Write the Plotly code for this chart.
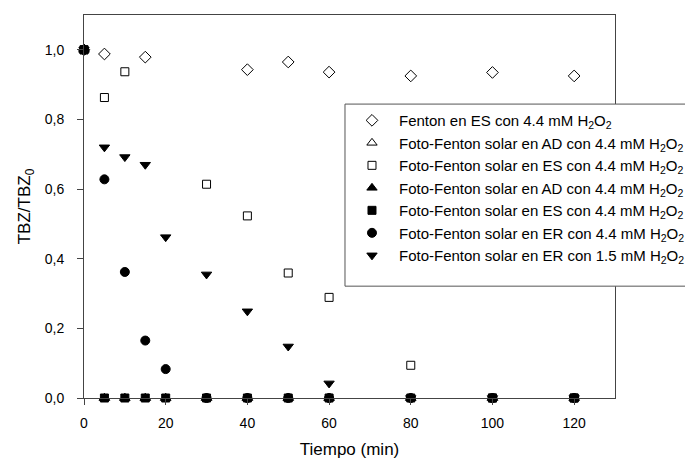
import plotly.graph_objects as go

# Tiempo de muestreo (min)
t_fenton = [0, 5, 15, 40, 50, 60, 80, 100, 120]
t_full = [0, 5, 10, 15, 20, 30, 40, 50, 60, 80, 100, 120]
t_es = [0, 5, 10, 30, 40, 50, 60, 80, 100, 120]

# TBZ/TBZ0 para cada ensayo
fenton_es = [1.0, 0.988, 0.979, 0.943, 0.965, 0.936, 0.925, 0.935, 0.925]
ff_ad_open = [1.0, 0, 0, 0, 0, 0, 0, 0, 0, 0, 0, 0]
ff_es_open = [1.0, 0.863, 0.937, 0.614, 0.523, 0.359, 0.289, 0.094, 0, 0]
ff_ad_fill = [1.0, 0, 0, 0, 0, 0, 0, 0, 0, 0, 0, 0]
ff_es_fill = [1.0, 0, 0, 0, 0, 0, 0, 0, 0, 0, 0, 0]
ff_er_44 = [1.0, 0.628, 0.362, 0.165, 0.083, 0, 0, 0, 0, 0, 0, 0]
ff_er_15 = [1.0, 0.720, 0.692, 0.670, 0.462, 0.355, 0.249, 0.148, 0.042, 0, 0, 0]

H2O2 = "H<sub>2</sub>O<sub>2</sub>"
series = [
    ("Fenton en ES con 4.4 mM " + H2O2, t_fenton, fenton_es, "diamond-open", 9),
    ("Foto-Fenton solar en AD con 4.4 mM " + H2O2, t_full, ff_ad_open, "triangle-up-open", 9),
    ("Foto-Fenton solar en ES con 4.4 mM " + H2O2, t_es, ff_es_open, "square-open", 8),
    ("Foto-Fenton solar en AD con 4.4 mM " + H2O2, t_full, ff_ad_fill, "triangle-up", 9),
    ("Foto-Fenton solar en ES con 4.4 mM " + H2O2, t_full, ff_es_fill, "square", 8),
    ("Foto-Fenton solar en ER con 4.4 mM " + H2O2, t_full, ff_er_44, "circle", 9),
    ("Foto-Fenton solar en ER con 1.5 mM " + H2O2, t_full, ff_er_15, "triangle-down", 9),
]

fig = go.Figure()
for i, (name, x, y, sym, size) in enumerate(series):
    fig.add_trace(go.Scatter(
        x=x, y=y, mode="markers", name=name, cliponaxis=False,
        legendgroup=f"g{i}",
        marker=dict(symbol=sym, size=size, color="black",
                    line=dict(color="black", width=1)),
    ))

axis_color = "#444444"

# Legend frame (runs off the right edge of the figure), opaque so it hides the plot border
legend_x0, legend_y_top, legend_y_bottom = 0.4915, 0.7674, 0.292
fig.add_shape(
    type="rect", xref="paper", yref="paper",
    x0=legend_x0, x1=1.3, y0=legend_y_bottom, y1=legend_y_top,
    line=dict(color="#555555", width=1), fillcolor="white", layer="above",
)

fig.update_layout(
    width=685, height=459,
    margin=dict(l=84, r=70, t=15, b=61, autoexpand=False),
    paper_bgcolor="white", plot_bgcolor="white",
    separators=",.",
    font=dict(family="Liberation Sans, Arial, sans-serif", size=14, color="black"),
    showlegend=True,
    legend=dict(
        x=legend_x0, y=legend_y_top, xanchor="left", yanchor="top",
        bgcolor="rgba(0,0,0,0)", borderwidth=0,
        font=dict(size=15), itemwidth=44, tracegroupgap=0,
    ),
)
fig.update_xaxes(
    range=[0, 130], tickvals=[0, 20, 40, 60, 80, 100, 120],
    showgrid=False, zeroline=False, showline=True, linecolor=axis_color,
    linewidth=1, mirror=True, ticks="outside", ticklen=6, tickcolor=axis_color,
    ticklabelstandoff=6, tickfont=dict(size=14),
    title=dict(text="Tiempo (min)", font=dict(size=17), standoff=13),
)
fig.update_yaxes(
    range=[0, 1.1], tickvals=[0, 0.2, 0.4, 0.6, 0.8, 1.0], tickformat=".1f",
    showgrid=False, zeroline=False, showline=True, linecolor=axis_color,
    linewidth=1, mirror=True, ticks="outside", ticklen=6, tickcolor=axis_color,
    ticklabelstandoff=10, tickfont=dict(size=14),
    title=dict(text="TBZ/TBZ<sub>0</sub>", font=dict(size=17), standoff=9),
)

fig.write_html("out.html")
